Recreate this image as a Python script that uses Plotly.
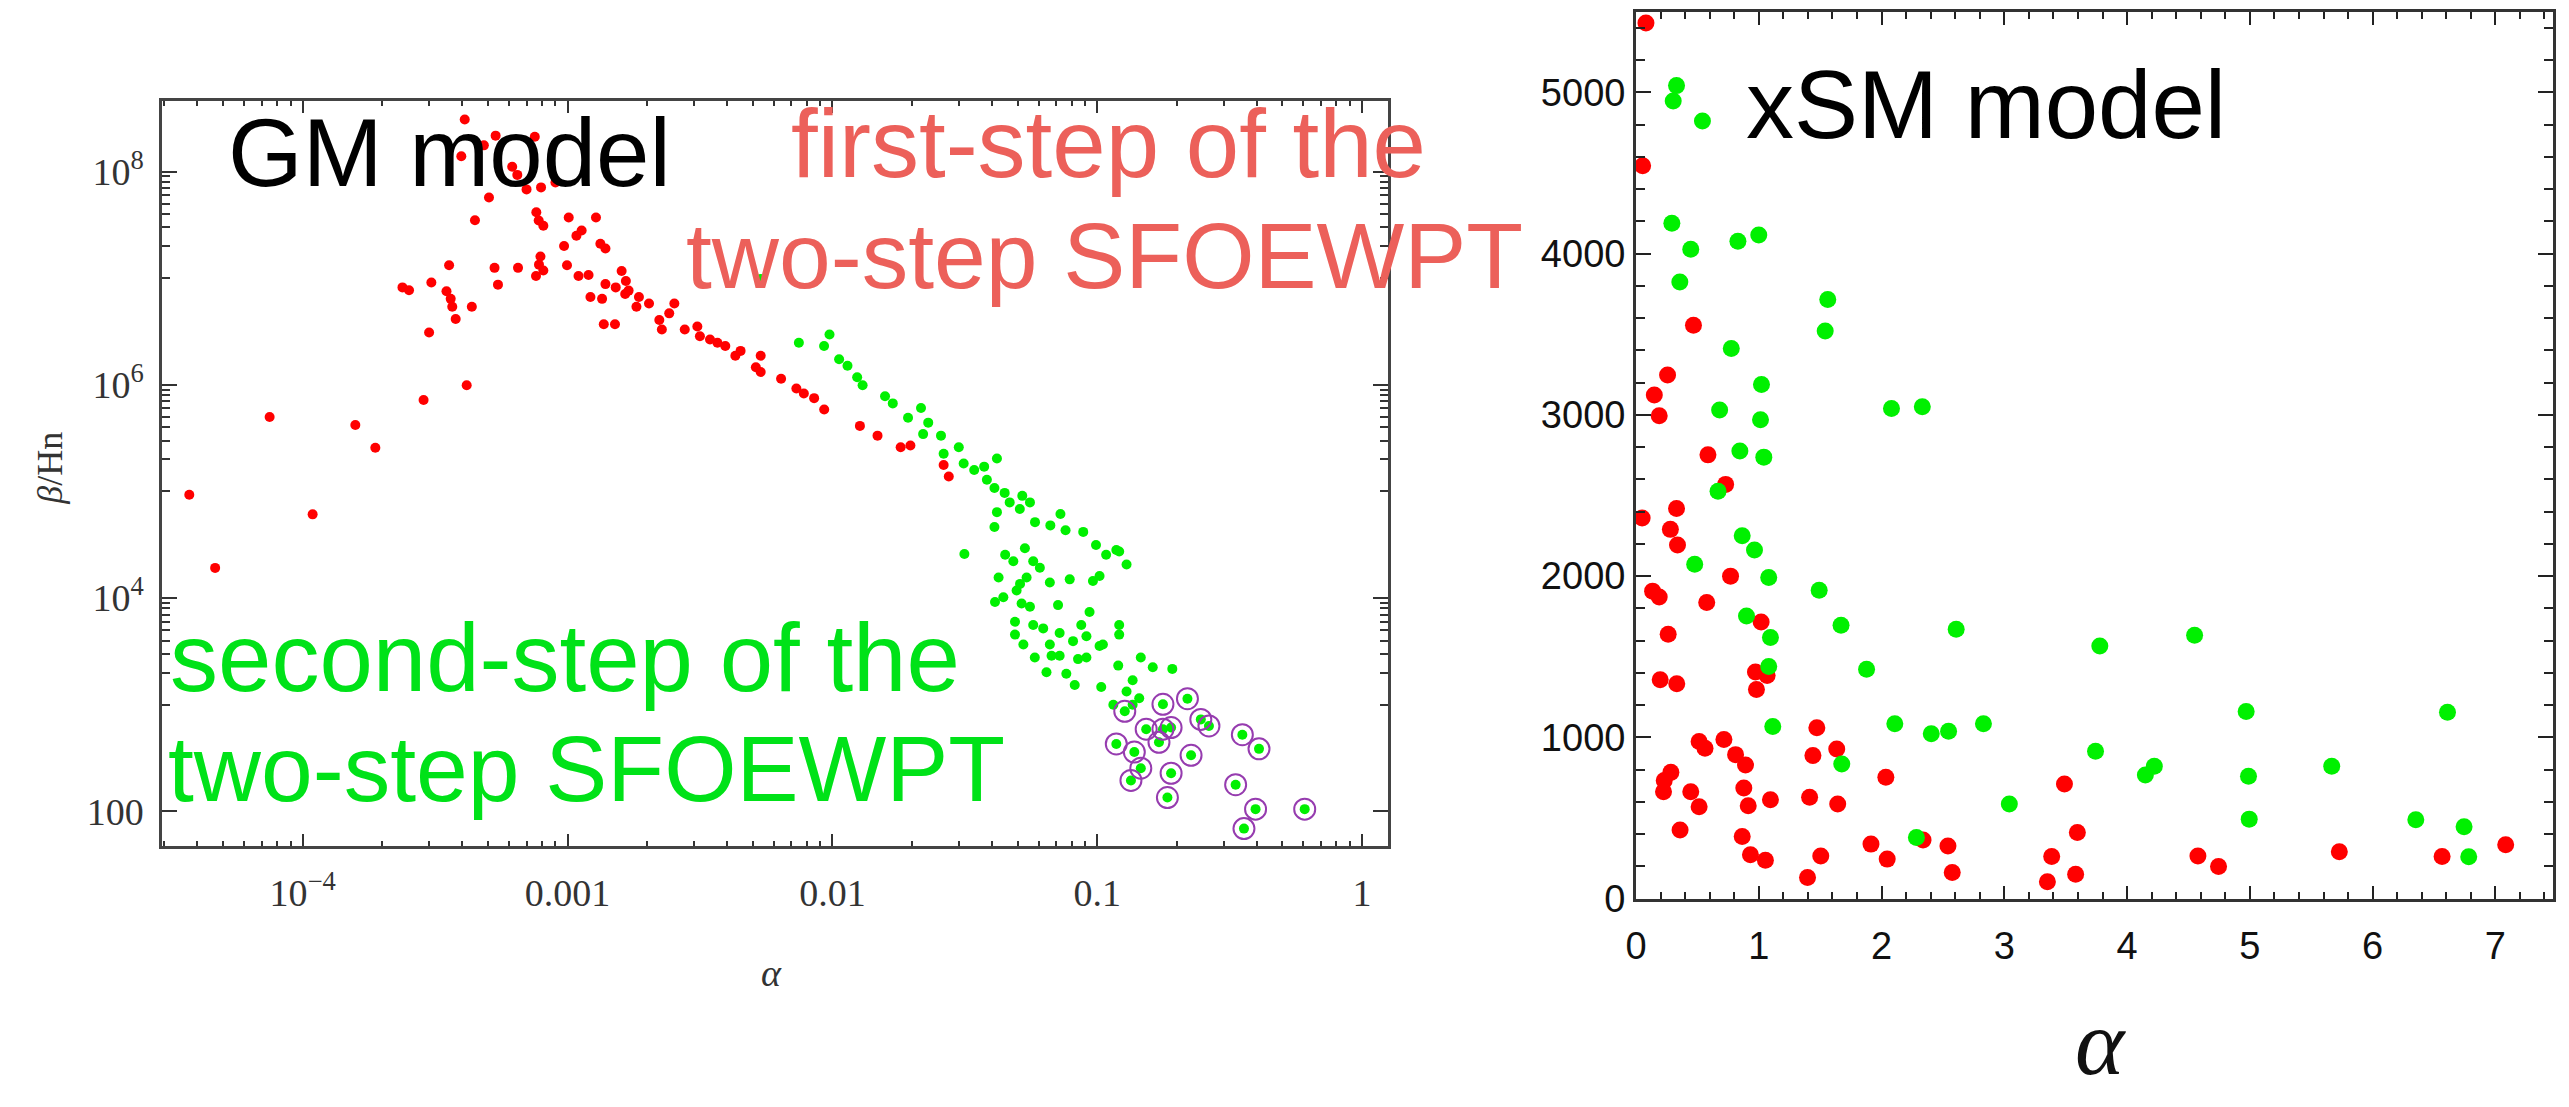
import plotly.graph_objects as go

W, H = 2569, 1107

# ---------------- GM model (left panel, log-log) ----------------
gm_red_alpha = [4.09e-4, 5.35e-4, 7.52e-4, 4.83e-4, 3.97e-4, 6.18e-4, 6.46e-4, 9.0e-4, 7.0e-4, 7.94e-4,
                5.05e-4, 4.47e-4, 7.62e-4, 7.78e-4, 8.1e-4, 1.01e-3, 1.28e-3, 1.13e-3, 1.08e-3, 1.33e-3,
                1.39e-3, 9.7e-4, 7.9e-4, 7.8e-4, 7.6e-4, 8.1e-4, 9.95e-4, 6.5e-4, 5.3e-4, 5.46e-4,
                3.57e-4, 3.06e-4, 2.38e-4, 2.52e-4, 3.49e-4, 3.62e-4, 3.67e-4, 4.35e-4, 3.78e-4, 3.0e-4,
                1.10e-3, 1.20e-3, 1.39e-3, 1.22e-3, 1.35e-3, 1.60e-3, 1.65e-3, 1.37e-3, 1.51e-3, 4.16e-4,
                2.86e-4, 7.5e-5, 1.58e-4, 1.88e-4, 3.73e-5, 1.09e-4, 4.67e-5,
                1.52e-3, 1.70e-3, 1.82e-3, 2.22e-3, 2.03e-3, 2.53e-3, 2.27e-3, 2.77e-3, 3.09e-3, 3.45e-3,
                3.94e-3, 4.30e-3, 5.36e-3, 5.14e-3, 5.36e-3, 6.40e-3, 7.31e-3, 7.8e-3, 8.53e-3, 9.31e-3,
                1.27e-2, 1.48e-2, 1.81e-2, 1.97e-2, 2.63e-2, 2.75e-2, 1.86e-3, 2.42e-3, 3.16e-3, 3.68e-3,
                4.5e-3, 1.66e-3]
gm_red_beta = [3.08e8, 2.17e8, 2.12e8, 1.76e8, 1.39e8, 1.11e8, 9.3e7, 7.9e7, 6.8e7, 7.1e7,
               5.7e7, 3.5e7, 4.15e7, 3.48e7, 3.1e7, 3.7e7, 3.7e7, 2.8e7, 2.5e7, 2.1e7,
               1.9e7, 2.0e7, 1.6e7, 1.34e7, 1.05e7, 1.18e7, 1.32e7, 1.25e7, 1.25e7, 8.7e6,
               1.32e7, 9.1e6, 8.2e6, 7.7e6, 7.55e6, 6.4e6, 5.4e6, 5.4e6, 4.15e6, 3.1e6,
               1.05e7, 1.07e7, 8.8e6, 6.65e6, 6.4e6, 1.17e7, 7.1e6, 3.7e6, 3.7e6, 9.9e5,
               7.2e5, 5.0e5, 4.2e5, 2.57e5, 9.3e4, 6.1e4, 1.92e4,
               8.2e6, 7.65e6, 5.4e6, 4.06e6, 5.8e6, 5.8e6, 3.3e6, 3.3e6, 3.53e6, 2.66e6,
               2.31e6, 1.87e6, 1.87e6, 1.46e6, 1.32e6, 1.14e6, 9.25e5, 8.3e5, 7.5e5, 5.86e5,
               4.12e5, 3.34e5, 2.6e5, 2.7e5, 1.77e5, 1.38e5, 6.65e6, 4.68e6, 2.86e6, 2.48e6,
               2.08e6, 9.4e6]

gm_green_alpha = [5.36e-3, 7.47e-3, 9.75e-3, 9.3e-3, 1.06e-2, 1.14e-2, 1.24e-2, 1.30e-2, 1.58e-2, 1.69e-2,
                  2.16e-2, 1.93e-2, 2.30e-2, 2.20e-2, 2.57e-2, 2.63e-2, 3.0e-2, 3.13e-2, 3.43e-2, 3.74e-2,
                  4.18e-2, 3.83e-2, 4.09e-2, 4.47e-2, 4.67e-2, 5.21e-2, 5.57e-2, 5.1e-2, 4.18e-2, 4.09e-2,
                  7.26e-2, 5.82e-2, 6.65e-2, 7.59e-2, 8.85e-2, 9.89e-2, 0.118, 5.33e-2,
                  3.15e-2, 4.49e-2, 4.82e-2, 5.73e-2, 6.07e-2, 4.24e-2, 5.11e-2, 5.41e-2, 4.96e-2, 4.11e-2,
                  4.42e-2, 5.18e-2, 5.57e-2, 6.62e-2, 7.87e-2, 9.63e-2, 0.102, 7.11e-2, 9.35e-2, 4.89e-2,
                  5.73e-2, 6.25e-2, 7.21e-2, 8.7e-2, 9.1e-2, 0.102, 0.105, 0.121, 0.121, 4.89e-2,
                  5.26e-2, 6.62e-2, 6.72e-2, 5.81e-2, 7.21e-2, 8.1e-2, 8.46e-2, 9.1e-2, 6.43e-2, 7.64e-2,
                  8.22e-2, 0.1035, 0.120, 0.146, 0.162, 0.192, 0.136, 0.129, 0.144, 0.115,
                  0.136, 0.108, 0.121, 0.129]
gm_green_beta = [9.8e6, 2.48e6, 2.96e6, 2.31e6, 1.74e6, 1.51e6, 1.18e6, 9.9e5, 7.8e5, 6.7e5,
                 6.06e5, 4.91e5, 4.42e5, 3.45e5, 3.34e5, 2.26e5, 2.6e5, 1.83e5, 1.59e5, 1.71e5,
                 2.04e5, 1.29e5, 1.08e5, 9.7e4, 7.9e4, 9.1e4, 7.9e4, 6.84e4, 6.4e4, 4.65e4,
                 6.15e4, 5.16e4, 4.81e4, 4.33e4, 4.18e4, 3.15e4, 2.83e4, 2.94e4,
                 2.59e4, 2.55e4, 2.22e4, 2.22e4, 1.93e4, 1.56e4, 1.36e4, 1.56e4, 1.18e4, 9.2e3,
                 1.02e4, 8.9e3, 8.3e3, 1.40e4, 1.50e4, 1.45e4, 1.61e4, 8.6e3, 7.4e3, 6.0e3,
                 5.6e3, 5.2e3, 4.71e3, 5.6e3, 4.39e3, 3.55e3, 3.68e3, 5.6e3, 4.55e3, 4.55e3,
                 3.68e3, 3.68e3, 2.88e3, 2.78e3, 2.88e3, 3.95e3, 2.68e3, 2.78e3, 2.02e3, 1.95e3,
                 1.53e3, 1.47e3, 2.33e3, 2.78e3, 2.25e3, 2.17e3, 1.70e3, 1.33e3, 1.15e3, 1.0e3,
                 1.0e3, 2.55e4, 2.74e4, 2.07e4]

gm_circled_alpha = [0.127, 0.177, 0.219, 0.246, 0.264, 0.153, 0.177, 0.190, 0.171, 0.118, 0.138,
                    0.146, 0.134, 0.190, 0.184, 0.226, 0.353, 0.408, 0.333, 0.396, 0.358, 0.607]
gm_circled_beta = [869, 1010, 1140, 729, 633, 590, 590, 611, 445, 429, 360,
                   254, 195, 228, 135, 336, 524, 386, 178, 105, 69, 105]

# ---------------- xSM model (right panel, linear) ----------------
xsm_red_alpha = [0.081, 0.054, 0.468, 0.257, 0.149, 0.189, 0.586, 0.730, 0.05, 0.33, 0.28, 0.338,
                 0.770, 0.135, 0.189, 0.576, 0.262, 1.019, 0.197, 0.332, 0.973, 1.068, 0.981, 1.473,
                 0.514, 0.562, 0.716, 0.811, 0.892, 1.635, 1.441, 0.284, 0.230, 0.224, 0.446, 0.514,
                 0.878, 0.914, 1.095, 1.414, 1.643, 2.035, 0.359, 0.865, 0.932, 1.054, 1.397, 1.505,
                 1.914, 2.046, 2.338, 2.541, 2.576, 3.49, 3.595, 3.386, 3.351, 3.581, 4.577, 4.745,
                 5.729, 6.566, 7.084]
xsm_red_beta = [5430, 4545, 3556, 3248, 3123, 2994, 2752, 2569, 2360, 2420, 2290, 2193,
                2000, 1907, 1871, 1836, 1639, 1716, 1358, 1333, 1405, 1384, 1297, 1059,
                974, 933, 987, 893, 829, 928, 887, 783, 732, 663, 663, 570,
                686, 576, 613, 628, 587, 752, 425, 385, 272, 238, 131, 265,
                338, 245, 363, 327, 162, 711, 410, 261, 104, 151, 265, 199,
                290, 261, 334]

xsm_green_alpha = [0.330, 0.303, 0.541, 0.292, 0.830, 1.0, 0.446, 0.357, 1.562, 1.541, 0.776, 1.022,
                   0.681, 1.014, 2.081, 2.332, 0.846, 1.041, 0.668, 0.865, 0.478, 0.965, 1.081, 1.492,
                   0.900, 1.095, 1.670, 2.608, 1.081, 1.878, 1.114, 2.108, 2.405, 2.546, 2.830, 1.676,
                   3.041, 2.284, 3.778, 4.550, 4.970, 3.743, 4.149, 4.222, 4.989, 5.667, 6.610, 4.995,
                   6.352, 6.745, 6.783]
xsm_green_beta = [5042, 4946, 4823, 4188, 4077, 4116, 4027, 3824, 3715, 3520, 3411, 3189,
                  3030, 2970, 3040, 3050, 2776, 2738, 2527, 2250, 2073, 2162, 1992, 1913,
                  1753, 1619, 1695, 1670, 1440, 1422, 1067, 1084, 1022, 1038, 1084, 835,
                  587, 379, 1567, 1633, 1161, 914, 767, 821, 759, 821, 1156, 493,
                  489, 446, 259]

# tick labels
gm_x_tickvals = [1e-4, 1e-3, 1e-2, 0.1, 1]
gm_x_ticktext = ["10<sup>\u22124</sup>", "0.001", "0.01", "0.1", "1"]
gm_y_tickvals = [1e2, 1e4, 1e6, 1e8]
gm_y_ticktext = ["100", "10<sup>4</sup>", "10<sup>6</sup>", "10<sup>8</sup>"]

# minor tick positions (log axes)
gm_x_minor = [m * 10.0 ** k for k in range(-5, 1) for m in range(2, 10) if 3e-5 < m * 10.0 ** k < 1.25]
gm_y_minor = [m * 10.0 ** j for j in (3, 5, 7) for m in range(1, 10)]

RED = "rgb(255,0,0)"
GREEN = "rgb(0,240,0)"
PURPLE = "rgb(150,60,175)"

fig = go.Figure()

fig.add_trace(go.Scatter(x=gm_red_alpha, y=gm_red_beta, mode="markers", xaxis="x", yaxis="y",
                         marker=dict(color=RED, size=10, line=dict(width=0)), showlegend=False))
fig.add_trace(go.Scatter(x=gm_green_alpha + gm_circled_alpha, y=gm_green_beta + gm_circled_beta,
                         mode="markers", xaxis="x", yaxis="y",
                         marker=dict(color=GREEN, size=10, line=dict(width=0)), showlegend=False))
fig.add_trace(go.Scatter(x=gm_circled_alpha, y=gm_circled_beta, mode="markers", xaxis="x", yaxis="y",
                         marker=dict(symbol="circle-open", color=PURPLE, size=21, line=dict(width=2, color=PURPLE)),
                         showlegend=False))

fig.add_trace(go.Scatter(x=xsm_red_alpha, y=xsm_red_beta, mode="markers", xaxis="x2", yaxis="y2",
                         marker=dict(color=RED, size=17, line=dict(width=0)), showlegend=False))
fig.add_trace(go.Scatter(x=xsm_green_alpha, y=xsm_green_beta, mode="markers", xaxis="x2", yaxis="y2",
                         marker=dict(color=GREEN, size=17, line=dict(width=0)), showlegend=False))

axis_common = dict(showgrid=False, zeroline=False, showline=True, mirror="ticks", ticks="inside")

serif_tick = dict(family="Liberation Serif", size=38, color="#333333")
sans_tick = dict(family="Liberation Sans", size=38, color="#111111")

fig.update_layout(
    width=W, height=H,
    margin=dict(l=0, r=0, t=0, b=0),
    paper_bgcolor="white", plot_bgcolor="white",
    xaxis=dict(axis_common, type="log", range=[-4.530, 0.098],
               domain=[152 / W, 1383 / W], anchor="y",
               tickvals=gm_x_tickvals, ticktext=gm_x_ticktext,
               ticklen=12, tickwidth=2, tickcolor="#333333", ticklabelstandoff=12,
               linecolor="#444444", linewidth=3, tickfont=serif_tick,
               minor=dict(tickvals=gm_x_minor, ticks="inside", ticklen=5, tickwidth=1.5,
                          tickcolor="#333333", showgrid=False)),
    yaxis=dict(axis_common, type="log", range=[1.679, 8.661],
               domain=[1 - 862 / H, 1 - 103 / H], anchor="x",
               tickvals=gm_y_tickvals, ticktext=gm_y_ticktext,
               ticklen=15, tickwidth=2, tickcolor="#333333", ticklabelstandoff=8,
               linecolor="#444444", linewidth=3, tickfont=serif_tick,
               minor=dict(tickvals=gm_y_minor, ticks="inside", ticklen=8, tickwidth=1.5,
                          tickcolor="#333333", showgrid=False)),
    xaxis2=dict(axis_common, range=[0, 7.47], domain=[1632 / W, 2553 / W], anchor="y2",
                tick0=0, dtick=1, ticklen=13, tickwidth=2, tickcolor="#222222", ticklabelstandoff=12,
                linecolor="#333333", linewidth=3, tickfont=sans_tick,
                minor=dict(dtick=0.2, tick0=0, ticks="inside", ticklen=7, tickwidth=1.5,
                           tickcolor="#222222", showgrid=False)),
    yaxis2=dict(axis_common, range=[0, 5500], domain=[1 - 916 / H, 1 - 12 / H], anchor="x2",
                tick0=0, dtick=1000, ticklen=15, tickwidth=2, tickcolor="#222222",
                linecolor="#333333", linewidth=3, tickfont=sans_tick,
                minor=dict(dtick=200, tick0=0, ticks="inside", ticklen=9, tickwidth=1.5,
                           tickcolor="#222222", showgrid=False)),
)

SALMON = "rgb(236,96,90)"
GTEXT = "rgb(0,226,24)"
big = 96


def px(x):
    return x / W


def py(y):
    return 1 - y / H


annots = [
    dict(text="GM model", x=px(216), y=py(155), xanchor="left", yanchor="middle",
         font=dict(family="Liberation Sans", size=big, color="black")),
    dict(text="first-step of the", x=px(1102), y=py(146), xanchor="center", yanchor="middle",
         font=dict(family="Liberation Sans", size=big, color=SALMON)),
    dict(text="two-step SFOEWPT", x=px(1098), y=py(261), xanchor="center", yanchor="middle",
         font=dict(family="Liberation Sans", size=big - 3, color=SALMON)),
    dict(text="second-step of the", x=px(158), y=py(670), xanchor="left", yanchor="middle",
         font=dict(family="Liberation Sans", size=big, color=GTEXT)),
    dict(text="two-step SFOEWPT", x=px(156), y=py(784), xanchor="left", yanchor="middle",
         font=dict(family="Liberation Sans", size=big - 3, color=GTEXT)),
    dict(text="xSM model", x=px(1740), y=py(107), xanchor="left", yanchor="middle",
         font=dict(family="Liberation Sans", size=big, color="black")),
    # axis titles
    dict(text="<i>α</i>", x=px(764), y=py(992), xanchor="center", yanchor="middle",
         font=dict(family="Liberation Serif", size=38, color="#333333")),
    dict(text="<i>β</i>/Hn", x=px(39), y=py(477), xanchor="center", yanchor="middle", textangle=-90,
         font=dict(family="Liberation Serif", size=36, color="#333333")),
    dict(text="<i>α</i>", x=px(2098), y=py(1062), xanchor="center", yanchor="middle",
         font=dict(family="Liberation Serif", size=94, color="#111111")),
]
for a in annots:
    a.update(xref="paper", yref="paper", showarrow=False)
fig.update_layout(annotations=annots)

fig.write_html("out.html")
